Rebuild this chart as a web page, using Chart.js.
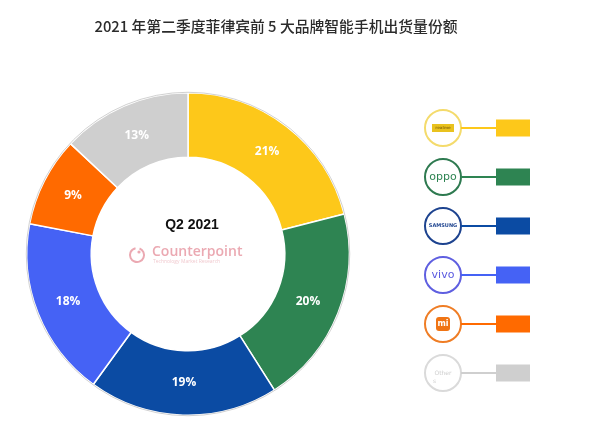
<!DOCTYPE html>
<html>
<head>
<meta charset="utf-8">
<script src="https://cdn.jsdelivr.net/npm/chart.js@4"></script>
<style>
html, body { margin: 0; padding: 0; background: #fff; }
#c { display: block; }
</style>
</head>
<body>
<canvas id="c" width="594" height="447"></canvas>
<script>
"use strict";

// values
const brands = ["realme", "OPPO", "Samsung", "vivo", "Xiaomi", "Others"];
const shares = [21, 20, 19, 18, 9, 13];
const colours = ["#FDC81A", "#2E8452", "#0B4BA3", "#4562F5", "#FF6A00", "#CFCFCF"];
const ringColours = ["#F4DB6C", "#2E7A50", "#1D438F", "#5F5FE0", "#EF7D25", "#DADADA"];
const chartTitle = "2021 年第二季度菲律宾前 5 大品牌智能手机出货量份额";
const centreTitle = "Q2 2021";

var Deco;

(function(Deco) {
    function title(ctx) {
        ctx.save();
        ctx.fillStyle = "#2b2b2b";
        ctx.font = "500 15px 'Noto Sans CJK SC'";
        ctx.textAlign = "center";
        ctx.textBaseline = "middle";
        ctx.fillText(chartTitle, 276, 26, 363);
        ctx.restore();
    }
    function centre(ctx, x, y) {
        ctx.save();
        ctx.textBaseline = "middle";
        ctx.textAlign = "center";
        ctx.fillStyle = "#111";
        ctx.font = "bold 14px 'Liberation Sans'";
        ctx.fillText(centreTitle, x + 4, y - 29);
        // counterpoint watermark
        ctx.strokeStyle = "#EBA9B2";
        ctx.lineWidth = 2;
        ctx.beginPath();
        ctx.arc(x - 51, y + 1, 7, -1.2, 4.5);
        ctx.stroke();
        ctx.fillStyle = "#EBA9B2";
        ctx.beginPath();
        ctx.arc(x - 49, y - 2, 1.6, 0, Math.PI * 2);
        ctx.fill();
        ctx.textAlign = "left";
        ctx.font = "600 14px 'Open Sans'";
        ctx.fillText("Counterpoint", x - 36, y - 2);
        ctx.fillStyle = "#F1CBD0";
        ctx.font = "5px 'Open Sans'";
        ctx.fillText("Technology Market Research", x - 35, y + 8);
        ctx.restore();
    }
    function logo(ctx, i, x, y) {
        ctx.save();
        ctx.textAlign = "center";
        ctx.textBaseline = "middle";
        if (i == 0) {
            ctx.fillStyle = "#E9C21E";
            ctx.fillRect(x - 11, y - 4, 22, 8);
            ctx.fillStyle = "#9a7a10";
            ctx.font = "bold 4px 'DejaVu Sans'";
            ctx.fillText("realme", x, y);
        } else if (i == 1) {
            ctx.fillStyle = colours[1];
            ctx.font = "11px 'DejaVu Sans'";
            ctx.fillText("oppo", x, y);
        } else if (i == 2) {
            ctx.fillStyle = "#1D438F";
            ctx.font = "bold 5px 'DejaVu Sans'";
            ctx.fillText("SAMSUNG", x, y);
        } else if (i == 3) {
            ctx.fillStyle = "#5A5AE0";
            ctx.font = "11px 'DejaVu Sans'";
            ctx.fillText("vivo", x, y);
        } else if (i == 4) {
            ctx.fillStyle = "#F07414";
            ctx.beginPath();
            ctx.roundRect(x - 7, y - 7, 14, 14, 3);
            ctx.fill();
            ctx.fillStyle = "#fff";
            ctx.font = "bold 8px 'DejaVu Sans'";
            ctx.fillText("mi", x, y);
        } else {
            ctx.fillStyle = "#CFCFCF";
            ctx.font = "6px 'DejaVu Sans'";
            ctx.fillText("Other", x, y);
            ctx.textAlign = "left";
            ctx.fillText("s", x - 10, y + 8);
        }
        ctx.restore();
    }
    function legend(ctx) {
        for (let i = 0; i < brands.length; i++) {
            let y = 128 + i * 49;
            ctx.save();
            ctx.strokeStyle = ringColours[i];
            ctx.lineWidth = 2;
            ctx.beginPath();
            ctx.arc(443, y, 18, 0, Math.PI * 2);
            ctx.stroke();
            ctx.strokeStyle = colours[i];
            ctx.beginPath();
            ctx.moveTo(461, y);
            ctx.lineTo(497, y);
            ctx.stroke();
            ctx.fillStyle = colours[i];
            ctx.fillRect(496, y - 8.5, 34, 17);
            ctx.restore();
            logo(ctx, i, 443, y);
        }
    }
    Deco.plugin = {
        id: "deco",
        afterDatasetsDraw: function(chart) {
            let ctx = chart.ctx;
            let meta = chart.getDatasetMeta(0);
            let first = meta.data[0];
            // thin outer outline
            ctx.save();
            ctx.strokeStyle = "rgba(190,190,190,0.7)";
            ctx.lineWidth = 1;
            ctx.beginPath();
            ctx.arc(first.x, first.y, first.outerRadius + 0.5, 0, Math.PI * 2);
            ctx.stroke();
            ctx.restore();
            // percentage labels
            ctx.save();
            ctx.fillStyle = "#fff";
            ctx.font = "bold 12px 'Open Sans'";
            ctx.textAlign = "center";
            ctx.textBaseline = "middle";
            meta.data.forEach(function(arc, i) {
                let p = arc.getCenterPoint();
                ctx.fillText(shares[i] + "%", p.x, p.y);
            });
            ctx.restore();
            title(ctx);
            centre(ctx, first.x, first.y);
            legend(ctx);
        }
    };
})(Deco || (Deco = {}));

new Chart(document.getElementById("c"), {
    type: "doughnut",
    data: {
        labels: brands,
        datasets: [ {
            data: shares,
            backgroundColor: colours,
            borderColor: "#ffffff",
            borderWidth: 1.5,
            hoverOffset: 0
        } ]
    },
    options: {
        responsive: false,
        animation: false,
        cutout: "60%",
        layout: {
            padding: { left: 26, right: 244, top: 92, bottom: 31 }
        },
        plugins: {
            legend: { display: false },
            tooltip: { enabled: false }
        }
    },
    plugins: [ Deco.plugin ]
});
</script>
</body>
</html>
